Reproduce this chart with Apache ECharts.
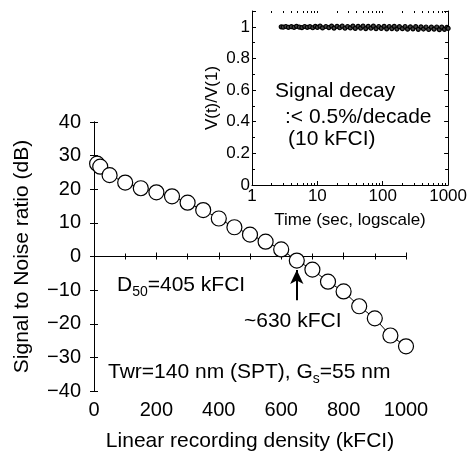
<!DOCTYPE html>
<html>
<head>
<meta charset="utf-8">
<script src="https://cdn.jsdelivr.net/npm/echarts@6/dist/echarts.min.js"></script>
<style>
  html, body { margin: 0; padding: 0; background: #fff; }
  #chart { width: 470px; height: 457px; }
</style>
</head>
<body>
<div id="chart"></div>
<script>
  // main plot: SNR vs linear recording density
  let density = [10, 20, 50, 100, 150, 200, 250, 300, 350, 400, 450, 500, 550, 600, 650, 700, 750, 800, 850, 900, 950, 1000]
  let snr = [27.6, 26.7, 24.2, 22.0, 20.3, 19.1, 17.9, 16.0, 13.8, 11.3, 8.7, 6.5, 4.4, 2.1, -1.2, -3.9, -7.5, -10.4, -14.8, -18.4, -23.5, -26.7]

  // inset: signal decay V(t)/V(1) vs time
  let decayTime = [2.8, 3, 3.3, 3.6, 4, 4.4, 4.8, 5.3, 5.8, 6.4, 7, 7.7, 8.5, 9.3, 10, 11, 12, 13.5, 15, 16.5,
    18, 20, 22, 24, 26.5, 29, 32, 35, 38, 42, 46, 50, 55, 60, 66, 72, 79, 87, 95, 105,
    115, 126, 138, 150, 165, 180, 200, 220, 240, 265, 290, 320, 350, 385, 420, 460, 505, 555, 610, 670,
    735, 800, 880, 960, 1000]
  let decayRatio = [1.000, 0.998, 1.002, 0.997, 1.001, 0.996, 1.003, 0.998, 0.995, 1.002,
    0.997, 1.001, 0.994, 1.003, 0.996, 1.004, 0.993, 1.002, 0.995, 1.005,
    0.992, 1.003, 0.994, 1.004, 0.991, 1.002, 0.993, 1.005, 0.990, 1.003,
    0.992, 1.004, 0.989, 1.003, 0.991, 1.004, 0.988, 1.002, 0.990, 1.003,
    0.987, 1.002, 0.989, 1.003, 0.986, 1.001, 0.988, 1.002, 0.985, 1.000,
    0.987, 1.001, 0.984, 1.000, 0.986, 0.999, 0.983, 0.998, 0.985, 0.999,
    0.982, 0.998, 0.984, 0.997, 0.990]

  let timeMajorTicks = [1, 10, 100, 1000]
  let timeMinorTicks = [2, 3, 4, 5, 6, 7, 8, 9, 20, 30, 40, 50, 60, 70, 80, 90, 200, 300, 400, 500, 600, 700, 800, 900]

  // annotation arrow (~630 kFCI), in data units
  let arrowX = 650
  let arrowFrom = -13
  let arrowTo = -4

  const FONT = 'Liberation Sans, Arial, sans-serif'
  const black = '#000'
  const plain = v => String(v).replace('-', '\u2212')

  let myChart = echarts.init(document.getElementById('chart'))

  let lineAx = { show: true, lineStyle: { color: black, width: 1 } }
  let noLabel = { show: false }

  let option = {
    animation: false,
    textStyle: { fontFamily: FONT, color: black },
    grid: [
      { left: 94, right: 64, top: 122, bottom: 60 },
      { left: 252, right: 19, top: 11, bottom: 272 }
    ],
    xAxis: [
      { // main bottom
        gridIndex: 0, type: 'value', min: 0, max: 1000, interval: 200,
        axisLine: lineAx,
        axisTick: { inside: true, length: 4, lineStyle: { color: black } },
        minorTick: { show: true, splitNumber: 2, length: 3, lineStyle: { color: black } },
        splitLine: { show: false },
        axisLabel: { fontSize: 20, color: black, margin: 9, fontFamily: FONT, formatter: plain },
        name: 'Linear recording density (kFCI)', nameLocation: 'middle', nameGap: 40,
        nameTextStyle: { fontSize: 21, color: black, fontFamily: FONT }
      },
      { // main top
        gridIndex: 0, type: 'value', min: 0, max: 1000, interval: 100, position: 'top',
        axisLine: lineAx,
        axisTick: { inside: true, length: 3, lineStyle: { color: black } },
        splitLine: { show: false }, axisLabel: noLabel
      },
      { // inset bottom (log)
        gridIndex: 1, type: 'log', logBase: 10, min: 1, max: 1000, z: 5,
        axisLine: lineAx,
        axisTick: { inside: true, length: 4, customValues: timeMajorTicks, lineStyle: { color: black } },
        splitLine: { show: false },
        axisLabel: { fontSize: 17, color: black, margin: 3, fontFamily: FONT, customValues: timeMajorTicks, formatter: plain },
        name: 'Time (sec, logscale)', nameLocation: 'middle', nameGap: 27,
        nameTextStyle: { fontSize: 17, color: black, fontFamily: FONT }
      },
      { // inset bottom minor ticks
        gridIndex: 1, type: 'log', logBase: 10, min: 1, max: 1000, position: 'bottom', z: 5,
        axisLine: { show: false },
        axisTick: { inside: true, length: 2, customValues: timeMinorTicks, lineStyle: { color: black } },
        splitLine: { show: false }, axisLabel: noLabel
      },
      { // inset top
        gridIndex: 1, type: 'log', logBase: 10, min: 1, max: 1000, position: 'top', z: 5,
        axisLine: { show: false },
        axisTick: { inside: true, length: 2, customValues: timeMajorTicks.concat(timeMinorTicks), lineStyle: { color: black } },
        splitLine: { show: false }, axisLabel: noLabel
      }
    ],
    yAxis: [
      { // main left
        gridIndex: 0, type: 'value', min: -40, max: 40, interval: 10,
        axisLine: lineAx,
        axisTick: { inside: true, length: 4, lineStyle: { color: black } },
        splitLine: { show: false },
        axisLabel: { fontSize: 20, color: black, margin: 13, fontFamily: FONT, formatter: plain },
        name: 'Signal to Noise ratio (dB)', nameLocation: 'middle', nameGap: 61,
        nameTextStyle: { fontSize: 21, color: black, fontFamily: FONT }
      },
      { // main right
        gridIndex: 0, type: 'value', min: -40, max: 40, interval: 10, position: 'right',
        axisLine: lineAx,
        axisTick: { inside: true, length: 4, lineStyle: { color: black } },
        splitLine: { show: false }, axisLabel: noLabel
      },
      { // inset left
        gridIndex: 1, type: 'value', min: 0, max: 1.1, interval: 0.2, z: 5,
        axisLine: lineAx,
        axisTick: { inside: true, length: 4, lineStyle: { color: black } },
        minorTick: { show: true, splitNumber: 2, length: 3, lineStyle: { color: black } },
        splitLine: { show: false },
        axisLabel: { fontSize: 17, color: black, margin: 2, fontFamily: FONT, showMaxLabel: false },
        name: 'V(t)/V(1)', nameLocation: 'middle', nameGap: 31,
        nameTextStyle: { fontSize: 17, color: black, fontFamily: FONT }
      },
      { // inset right
        gridIndex: 1, type: 'value', min: 0, max: 1.1, interval: 0.2, position: 'right', z: 5,
        axisLine: lineAx,
        axisTick: { inside: true, length: 4, lineStyle: { color: black } },
        minorTick: { show: true, splitNumber: 2, length: 3, lineStyle: { color: black } },
        splitLine: { show: false }, axisLabel: noLabel
      }
    ],
    graphic: [
      { // white backing of the inset, hides the main box's top-right corner
        type: 'rect', z: 1, silent: true,
        shape: { x: 187, y: 0, width: 283, height: 240 },
        style: { fill: '#fff' }
      },
      {
        type: 'text', left: 117, top: 275, z: 10,
        style: {
          text: 'D{s|50}=405 kFCI', font: '21px ' + FONT, fill: black,
          rich: { s: { fontSize: 14, fontFamily: FONT, verticalAlign: 'bottom', padding: [13, 0, 0, 0] } }
        }
      },
      {
        type: 'text', left: 244, top: 311, z: 10,
        style: { text: '~630 kFCI', font: '21px ' + FONT, fill: black }
      },
      {
        type: 'text', left: 108, top: 362, z: 10,
        style: {
          text: 'Twr=140 nm (SPT), G{s|s}=55 nm', font: '21px ' + FONT, fill: black,
          rich: { s: { fontSize: 14, fontFamily: FONT, verticalAlign: 'bottom', padding: [13, 0, 0, 0] } }
        }
      },
      { type: 'text', left: 275, top: 81, z: 10, style: { text: 'Signal decay', font: '21px ' + FONT, fill: black } },
      { type: 'text', left: 285, top: 107, z: 10, style: { text: ':< 0.5%/decade', font: '21px ' + FONT, fill: black } },
      { type: 'text', left: 288, top: 129, z: 10, style: { text: '(10 kFCI)', font: '21px ' + FONT, fill: black } }
    ],
    series: [
      {
        type: 'line', xAxisIndex: 0, yAxisIndex: 0, z: 3,
        data: density.map((d, i) => [d, snr[i]]),
        symbol: 'circle', symbolSize: 15,
        itemStyle: { color: '#fff', borderColor: black, borderWidth: 1.2 },
        lineStyle: { color: black, width: 1 },
        markLine: {
          silent: true, symbol: ['none', 'arrow'], symbolSize: [10, 14],
          label: { show: false },
          lineStyle: { color: black, width: 2, type: 'solid' },
          data: [[{ coord: [arrowX, arrowFrom] }, { coord: [arrowX, arrowTo] }]]
        }
      },
      { // 0 dB reference line
        type: 'line', xAxisIndex: 0, yAxisIndex: 0, z: 2,
        data: [[0, 0], [1000, 0]], symbol: 'none',
        lineStyle: { color: black, width: 1 }
      },
      {
        type: 'line', xAxisIndex: 2, yAxisIndex: 2, z: 6,
        data: decayTime.map((t, i) => [t, decayRatio[i]]),
        symbol: 'circle', symbolSize: 4,
        itemStyle: { color: '#444', borderColor: black, borderWidth: 1.2 },
        lineStyle: { color: black, width: 2.5 }
      }
    ]
  }
  option && myChart.setOption(option)
</script>
</body>
</html>
